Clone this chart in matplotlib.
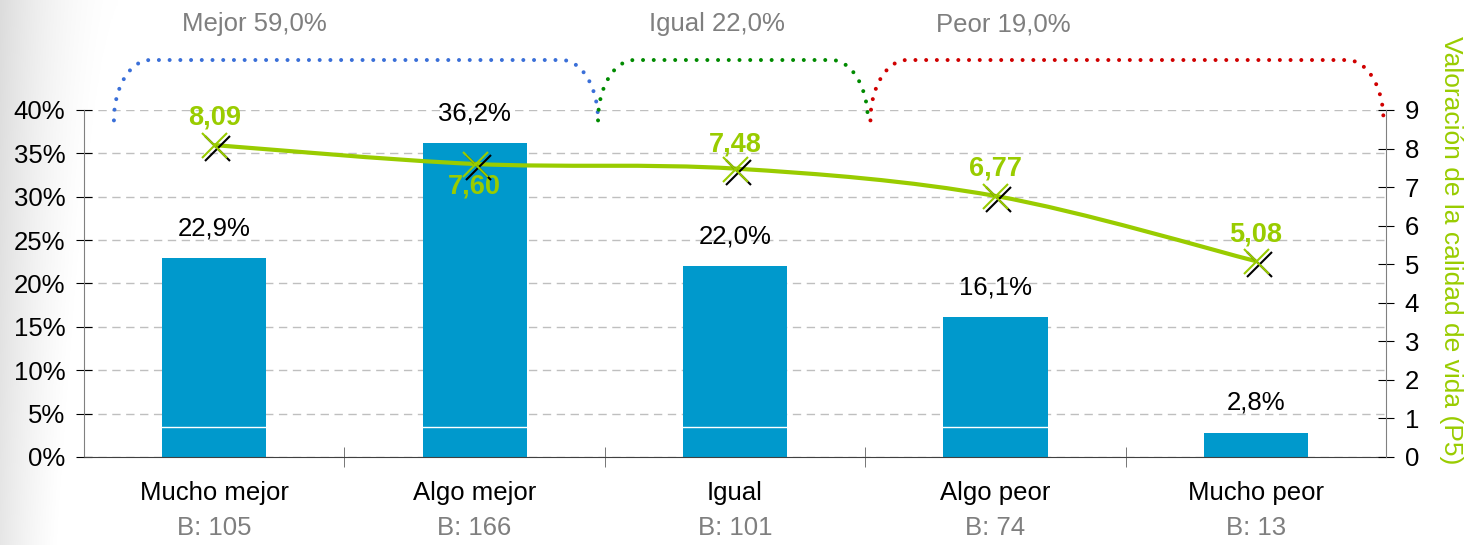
import numpy as np
import matplotlib
matplotlib.use("Agg")
import matplotlib.pyplot as plt
import matplotlib.transforms as mtransforms
from matplotlib.path import Path
from matplotlib.patches import PathPatch
from matplotlib.colors import LinearSegmentedColormap

plt.rcParams['font.family'] = ['Liberation Sans', 'DejaVu Sans']

# Data
categories = ['Mucho mejor', 'Algo mejor', 'Igual', 'Algo peor', 'Mucho peor']
bases = [105, 166, 101, 74, 13]
pct = [22.9, 36.2, 22.0, 16.1, 2.8]
valoracion = [8.09, 7.60, 7.48, 6.77, 5.08]
groups = ['Mejor', 'Igual', 'Peor']
group_pct = [59.0, 22.0, 19.0]

bar_color = '#0099CC'
green = '#99CC00'
gray_txt = '#7F7F7F'
fs = 18.5

fig = plt.figure(figsize=(14.68, 5.45), dpi=100)

# soft gray shading on the left edge
bg = fig.add_axes([0, 0, 0.085, 1], zorder=-10)
gx = np.linspace(0, 1, 256)
gy = np.linspace(0, 1, 128)[:, None]
grad = np.clip(1 - (1 - gx[None, :]) ** 2 + 0.3 * gy, 0, 1)
bg.imshow(grad, aspect='auto', extent=[0, 1, 0, 1], origin='upper',
          cmap=LinearSegmentedColormap.from_list('g', ['#DCDCDC', '#FFFFFF']))
bg.axis('off')

ax = fig.add_axes([0.0572, 0.1615, 0.8870, 0.6367])
ax.patch.set_alpha(0)
x = np.arange(len(categories))

ax.bar(x, np.array(pct) / 100, width=0.4, color=bar_color, zorder=2)
ax.axhline(0.034, color='white', lw=1, zorder=2.5)
ax.set_xlim(-0.5, 4.5)
ax.set_ylim(0, 0.40)
ax.set_yticks(np.arange(0, 0.41, 0.05))
ax.set_yticklabels([f'{int(round(v * 100))}%' for v in np.arange(0, 0.41, 0.05)])
ax.yaxis.grid(True, color='#BFBFBF', linestyle=(0, (6, 4)), lw=1, zorder=0)
ax.set_axisbelow(True)

for side in ['top', 'right']:
    ax.spines[side].set_visible(False)
ax.spines['left'].set_color('#808080')
ax.spines['bottom'].set_color('#404040')
ax.tick_params(axis='y', direction='inout', length=11, labelsize=fs, color='black', pad=8)

ax.set_xticks(x)
ax.set_xticklabels(categories, fontsize=fs)
ax.set_xticks(np.arange(-0.5, 4.6, 1)[1:-1], minor=True)
ax.tick_params(axis='x', which='major', length=0, pad=17)
ax.tick_params(axis='x', which='minor', direction='inout', length=14, color='#606060')

for i, b in enumerate(bases):
    ax.annotate(f'B: {b}', (i, 0), xytext=(0, -51), textcoords='offset points',
                ha='center', va='center', fontsize=fs, color=gray_txt)

for i, p in enumerate(pct):
    ax.annotate(f'{p:.1f}%'.replace('.', ','), (i, p / 100), xytext=(0, 21.5),
                textcoords='offset points', ha='center', va='center', fontsize=fs)

# secondary axis with the smoothed line
ax2 = ax.twinx()
ax2.set_ylim(0, 9)
ax2.set_yticks(range(10))
for side in ['top', 'left', 'bottom']:
    ax2.spines[side].set_visible(False)
ax2.spines['right'].set_color('#808080')
ax2.tick_params(axis='y', direction='inout', length=11, labelsize=fs, pad=8)
ax2.text(1.05, 0.597, 'Valoración de la calidad de vida (P5)', rotation=270,
         transform=ax2.transAxes, ha='center', va='center', color=green, fontsize=19)

# Catmull-Rom style bezier through the points
pts = np.column_stack([x, valoracion]).astype(float)
ext = np.vstack([pts[0], pts, pts[-1]])
verts = [tuple(pts[0])]
codes = [Path.MOVETO]
for k in range(1, len(ext) - 2):
    p0, p1, p2, p3 = ext[k - 1], ext[k], ext[k + 1], ext[k + 2]
    c1 = p1 + (p2 - p0) / 6
    c2 = p2 - (p3 - p1) / 6
    verts += [tuple(c1), tuple(c2), tuple(p2)]
    codes += [Path.CURVE4] * 3
ax2.add_patch(PathPatch(Path(verts, codes), fill=False, edgecolor=green, lw=3, zorder=3))

shift = mtransforms.offset_copy(ax2.transData, fig=fig, x=3, y=-3, units='dots')
ax2.plot(x, valoracion, 'x', color='black', ms=18, mew=1.5, transform=shift, zorder=4)
ax2.plot(x, valoracion, 'x', color=green, ms=18, mew=1.5, zorder=4)

offsets = [19.5, -16, 17.5, 20, 19.5]
for i, (v, o) in enumerate(zip(valoracion, offsets)):
    ax2.annotate(f'{v:.2f}'.replace('.', ','), (i, v), xytext=(0, o),
                 textcoords='offset points', ha='center', va='center',
                 fontsize=19.5, fontweight='bold', color=green)

# group brackets above the chart
spans = [(-0.385, 1.474), (1.474, 2.51), (2.52, 4.49)]
bracket_colors = ['#3A6FD8', '#008A00', '#D00000']
label_x = [0.153, 1.93, 3.03]
ybot, ytop, rx = 0.388, 0.4576, 0.14
t = np.linspace(0, np.pi / 2, 30)
for (x0, x1), c, lx, g, gp in zip(spans, bracket_colors, label_x, groups, group_pct):
    left_x = x0 + rx - rx * np.cos(t)
    left_y = ybot + (ytop - ybot) * np.sin(t)
    right_x = x1 - rx + rx * np.cos(t[::-1])
    right_y = ybot + (ytop - ybot) * np.sin(t[::-1])
    bx = np.concatenate([left_x, right_x])
    by = np.concatenate([left_y, right_y])
    ax.plot(bx, by, color=c, lw=2.9, linestyle=(0, (0.001, 2.66)),
            dash_capstyle='round', clip_on=False, zorder=5)
    ax.text(lx, 0.499, f'{g} {gp:.1f}%'.replace('.', ','), ha='center', va='center',
            fontsize=fs, color=gray_txt, clip_on=False)

fig.savefig('out.png', dpi=100)
